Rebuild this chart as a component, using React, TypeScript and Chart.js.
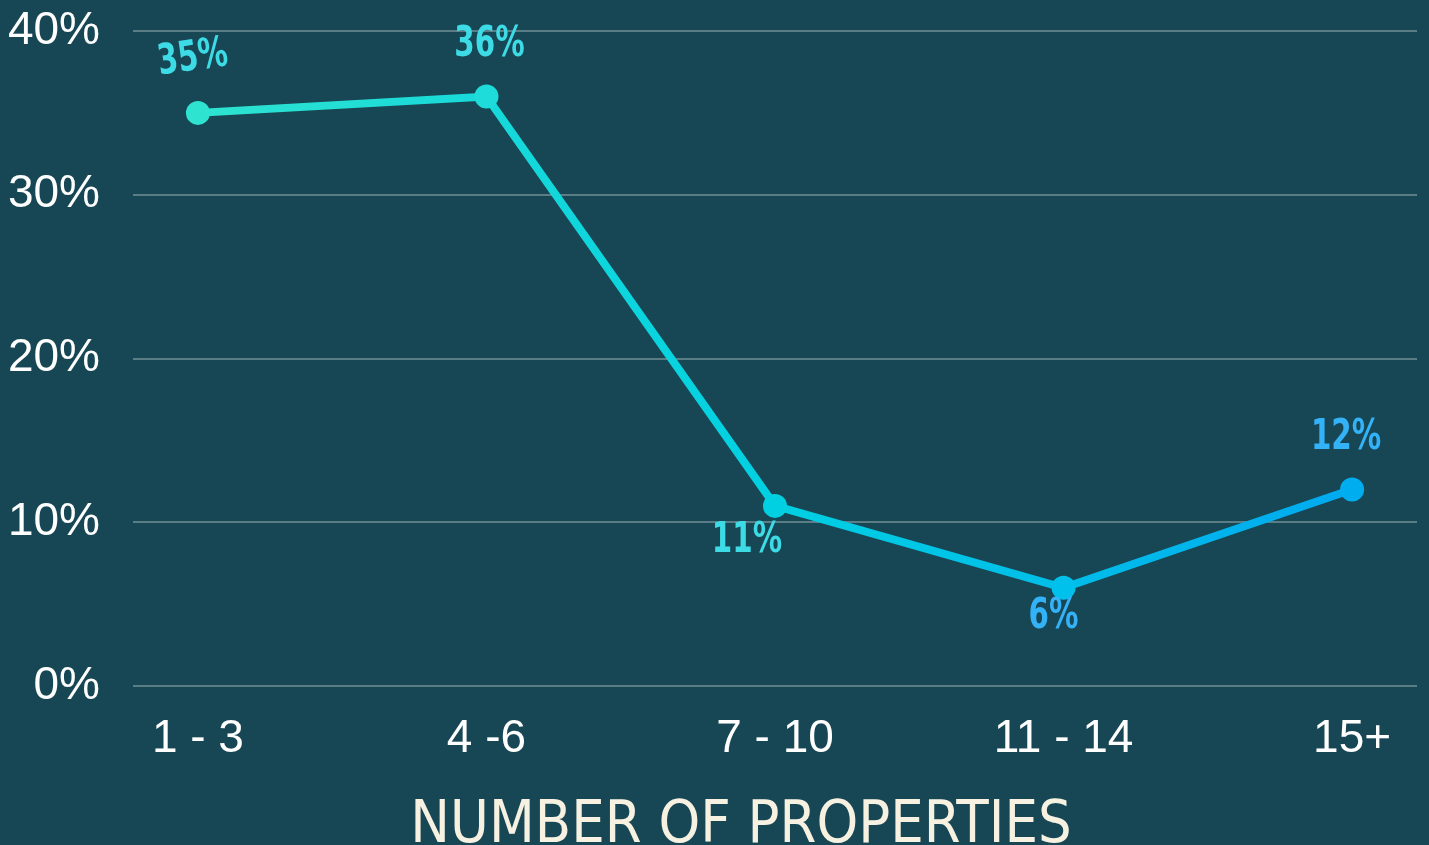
import React, { useEffect, useRef } from "react";
import { Chart, registerables } from "chart.js";

Chart.register(...registerables);

const categories = ["1 - 3", "4 -6", "7 - 10", "11 - 14", "15+"];
const shares = [35, 36, 11, 6, 12];
const yTicks = [0, 10, 20, 30, 40];
const pointColors = ["#2ee3d0", "#1ddcd9", "#00d0e2", "#00c0ec", "#00aef0"];
const labelColors = ["#3cdbe6", "#3cdbe6", "#3cdbe6", "#33b2f7", "#33b2f7"];
const axisTitle = "NUMBER OF PROPERTIES";

const BG = "#174755";

export default function App() {
  const ref = useRef<HTMLCanvasElement | null>(null);

  useEffect(() => {
    const canvas = ref.current;
    if (!canvas) return;

    const labelOffsets = [
      { dx: -5, dy: -54, rot: -8 },
      { dx: 3, dy: -51, rot: 0 },
      { dx: -28, dy: 35, rot: 0 },
      { dx: -10, dy: 29, rot: 0 },
      { dx: -6, dy: -51, rot: 0 },
    ];

    const bgPlugin = {
      id: "bg",
      beforeDraw(chart: any) {
        const { ctx, width, height } = chart;
        ctx.save();
        ctx.fillStyle = BG;
        ctx.fillRect(0, 0, width, height);
        ctx.restore();
      },
    };

    const labelPlugin = {
      id: "pointLabels",
      afterDatasetsDraw(chart: any) {
        const { ctx, chartArea } = chart;
        const meta = chart.getDatasetMeta(0);
        ctx.save();
        ctx.font = "bold 42px 'DejaVu Sans', sans-serif";
        ctx.textAlign = "center";
        ctx.textBaseline = "middle";
        meta.data.forEach((pt: any, i: number) => {
          const o = labelOffsets[i];
          ctx.save();
          ctx.translate(pt.x + o.dx, pt.y + o.dy);
          ctx.rotate((o.rot * Math.PI) / 180);
          ctx.scale(0.7, 1);
          ctx.fillStyle = labelColors[i];
          ctx.fillText(shares[i] + "%", 0, 0);
          ctx.restore();
        });
        // axis title
        ctx.font = "59px 'DejaVu Sans Condensed', 'Liberation Sans Narrow', sans-serif";
        ctx.fillStyle = "#f6f1e1";
        ctx.textBaseline = "alphabetic";
        ctx.fillText(axisTitle, (chartArea.left + chartArea.right) / 2 - 34, chartArea.bottom + 156);
        ctx.restore();
      },
    };

    const chart = new Chart(canvas, {
      type: "line",
      data: {
        datasets: [
          {
            data: shares.map((v, i) => ({ x: i, y: v })),
            borderWidth: 8,
            borderColor: (c: any) => {
              const area = c.chart.chartArea;
              if (!area) return pointColors[0];
              const g = c.chart.ctx.createLinearGradient(198, 0, 1353, 0);
              g.addColorStop(0, "#2ee3d0");
              g.addColorStop(0.5, "#00d0e2");
              g.addColorStop(1, "#00aaf0");
              return g;
            },
            pointRadius: 12,
            pointHoverRadius: 12,
            pointBorderWidth: 0,
            pointBackgroundColor: pointColors,
            tension: 0,
          },
        ],
      },
      options: {
        animation: false,
        responsive: false,
        maintainAspectRatio: false,
        layout: { padding: { top: 31, right: 11, left: 0, bottom: 0 } },
        plugins: {
          legend: { display: false },
          tooltip: { enabled: false },
        },
        scales: {
          x: {
            type: "linear",
            min: -0.225,
            max: 4.225,
            grid: { display: false, drawTicks: false },
            border: { display: false },
            afterFit(scale: any) {
              scale.height = 159;
              scale.paddingLeft = 0;
              scale.paddingRight = 0;
            },
            afterBuildTicks(scale: any) {
              scale.ticks = categories.map((_, i) => ({ value: i }));
            },
            ticks: {
              stepSize: 1,
              includeBounds: false,
              autoSkip: false,
              maxRotation: 0,
              padding: 26,
              color: "#ffffff",
              font: { family: "'Liberation Sans', Arial, sans-serif", size: 46 },
              callback: (v: any) => categories[Math.round(Number(v))] ?? "",
            },
          },
          y: {
            min: 0,
            max: 40,
            afterFit(scale: any) {
              scale.width = 133;
              scale.paddingTop = 0;
              scale.paddingBottom = 0;
            },
            afterBuildTicks(scale: any) {
              scale.ticks = yTicks.map((v) => ({ value: v }));
            },
            grid: { color: "#5a7d86", lineWidth: 2, drawTicks: false },
            border: { display: false },
            ticks: {
              padding: 33,
              color: "#ffffff",
              font: { family: "'Liberation Sans', Arial, sans-serif", size: 46 },
              callback: (v: any) => v + "%",
            },
          },
        },
      },
      plugins: [bgPlugin, labelPlugin],
    } as any);

    return () => chart.destroy();
  }, []);

  return (
    <div style={{ position: "fixed", left: 0, top: 0, width: 1429, height: 845, background: BG }}>
      <canvas ref={ref} width={1429} height={845} style={{ display: "block", width: 1429, height: 845 }} />
    </div>
  );
}
